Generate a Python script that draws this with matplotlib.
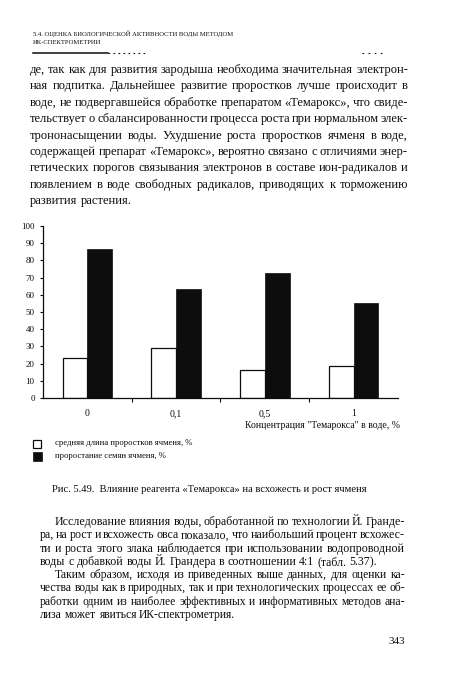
import matplotlib
matplotlib.use("Agg")
import matplotlib.pyplot as plt
from matplotlib.patches import Rectangle
from matplotlib.lines import Line2D
import numpy as np

W, H = 450, 675
SERIF = ["Liberation Serif", "DejaVu Serif"]
INK = "#0d0d0d"

# данные диаграммы
concentrations = ["0", "0,1", "0,5", "1"]
sprout_length = [23.2, 29.0, 16.2, 18.7]   # средняя длина проростков, %
germination = [86.5, 63.3, 72.6, 55.2]     # прорастание семян, %
y_ticks = list(range(0, 101, 10))

legend_labels = ["средняя длина проростков ячменя, %", "проростание семян ячменя, %"]
x_label = "Концентрация \"Темарокса\" в воде, %"
caption = "Рис. 5.49.  Влияние реагента «Темарокса» на всхожесть и рост ячменя"

header_lines = [
    "5.4. ОЦЕНКА БИОЛОГИЧЕСКОЙ АКТИВНОСТИ ВОДЫ МЕТОДОМ",
    "ИК-СПЕКТРОМЕТРИИ",
]

para_top = [
    "де, так как для развития зародыша необходима значительная электрон-",
    "ная подпитка. Дальнейшее развитие проростков лучше происходит в",
    "воде, не подвергавшейся обработке препаратом «Темарокс», что свиде-",
    "тельствует о сбалансированности процесса роста при нормальном элек-",
    "трононасыщении воды. Ухудшение роста проростков ячменя в воде,",
    "содержащей препарат «Темарокс», вероятно связано с отличиями энер-",
    "гетических порогов связывания электронов в составе ион-радикалов и",
    "появлением в воде свободных радикалов, приводящих к торможению",
    "развития растения.",
]

para_bottom_1 = [
    "Исследование влияния воды, обработанной по технологии Й. Гранде-",
    "ра, на рост и всхожесть овса показало, что наибольший процент всхожес-",
    "ти и роста этого злака наблюдается при использовании водопроводной",
    "воды с добавкой воды Й. Грандера в соотношении 4:1 (табл. 5.37).",
]
para_bottom_2 = [
    "Таким образом, исходя из приведенных выше данных, для оценки ка-",
    "чества воды как в природных, так и при технологических процессах ее об-",
    "работки одним из наиболее эффективных и информативных методов ана-",
    "лиза может явиться ИК-спектрометрия.",
]

plt.rcParams["font.family"] = SERIF

fig = plt.figure(figsize=(W / 100, H / 100), dpi=100)
fig.patch.set_facecolor("white")
renderer = fig.canvas.get_renderer()


def fx(x):
    return x / W


def fy(y):
    return 1 - y / H


def put(x, y, s, size, ha="left"):
    return fig.text(fx(x), fy(y), s, fontsize=size, ha=ha, va="center", color=INK)


def paragraph(lines, x0, x1, y0, lead, size, indent=0):
    # выключка по ширине: слова ставим по одному
    rows = []
    for i, line in enumerate(lines):
        texts = [put(0, 0, w, size) for w in line.split()]
        rows.append(texts)
    scale = 1.0
    for i, texts in enumerate(rows[:-1]):
        start = x0 + (indent if i == 0 else 0)
        used = sum(t.get_window_extent(renderer).width for t in texts)
        need = used + 0.18 * size * 100 / 72 * (len(texts) - 1)
        scale = min(scale, (x1 - start) / need)
    size = size * scale
    for i, texts in enumerate(rows):
        for t in texts:
            t.set_fontsize(size)
        start = x0 + (indent if i == 0 else 0)
        widths = [t.get_window_extent(renderer).width for t in texts]
        if i == len(rows) - 1 or len(texts) == 1:
            gap = 0.25 * size * 100 / 72
        else:
            gap = (x1 - start - sum(widths)) / (len(texts) - 1)
        x = start
        y = y0 + i * lead
        for t, w in zip(texts, widths):
            t.set_position((fx(x), fy(y)))
            x += w + gap


# колонтитул
put(33, 34, header_lines[0], 4.8)
put(33, 43, header_lines[1], 4.8)
fig.add_artist(Line2D([fx(33), fx(108)], [fy(53), fy(53)], color=INK, lw=1.1))
fig.add_artist(Line2D([fx(108), fx(148)], [fy(53), fy(53)], color=INK, lw=0.8,
                      linestyle=(0, (1.5, 3))))
fig.add_artist(Line2D([fx(362), fx(385)], [fy(53), fy(53)], color=INK, lw=0.8,
                      linestyle=(0, (1.5, 4))))

# текст сверху
paragraph(para_top, 30, 408, 70, 16.4, 9.2)

# диаграмма
ax = fig.add_axes([fx(43), fy(398), 355 / W, 172 / H])
x = np.arange(len(concentrations))
bw = 0.28
ax.bar(x - bw / 2, sprout_length, bw, color="white", edgecolor=INK, linewidth=0.9)
ax.bar(x + bw / 2, germination, bw, color=INK, edgecolor=INK, linewidth=0.5)
ax.set_xlim(-0.5, 3.5)
ax.set_ylim(0, 100)
for side in ["top", "right"]:
    ax.spines[side].set_visible(False)
for side in ["left", "bottom"]:
    ax.spines[side].set_color(INK)
    ax.spines[side].set_linewidth(0.9)
ax.set_yticks(y_ticks)
ax.set_yticklabels([str(v) for v in y_ticks])
ax.tick_params(axis="y", direction="out", length=2.5, width=0.8, pad=3.5,
               labelsize=6.5, colors=INK)
ax.set_xticks(x)
ax.set_xticklabels(concentrations)
ax.tick_params(axis="x", length=0, pad=8, labelsize=7, colors=INK)
ax.set_xticks(x[:-1] + 0.5, minor=True)
ax.tick_params(axis="x", which="minor", length=3, width=0.8, direction="out", colors=INK)
ax.set_facecolor("white")

put(400, 425, x_label, 7, ha="right")

# условные обозначения
fig.add_artist(Rectangle((fx(33), fy(448)), 8 / W, 8 / H, transform=fig.transFigure,
                         facecolor="white", edgecolor=INK, lw=0.9))
fig.add_artist(Rectangle((fx(33), fy(461)), 9 / W, 9 / H, transform=fig.transFigure,
                         facecolor=INK, edgecolor=INK, lw=0.5))
put(55, 443, legend_labels[0], 6.2)
put(55, 456, legend_labels[1], 6.2)

put(52, 490, caption, 7.6)

# текст снизу
paragraph(para_bottom_1, 40, 405, 522, 13.3, 8.6, indent=15)
paragraph(para_bottom_2, 40, 405, 575, 13.3, 8.6, indent=15)

put(405, 642, "343", 8, ha="right")

fig.savefig("out.png", dpi=100, facecolor="white")
